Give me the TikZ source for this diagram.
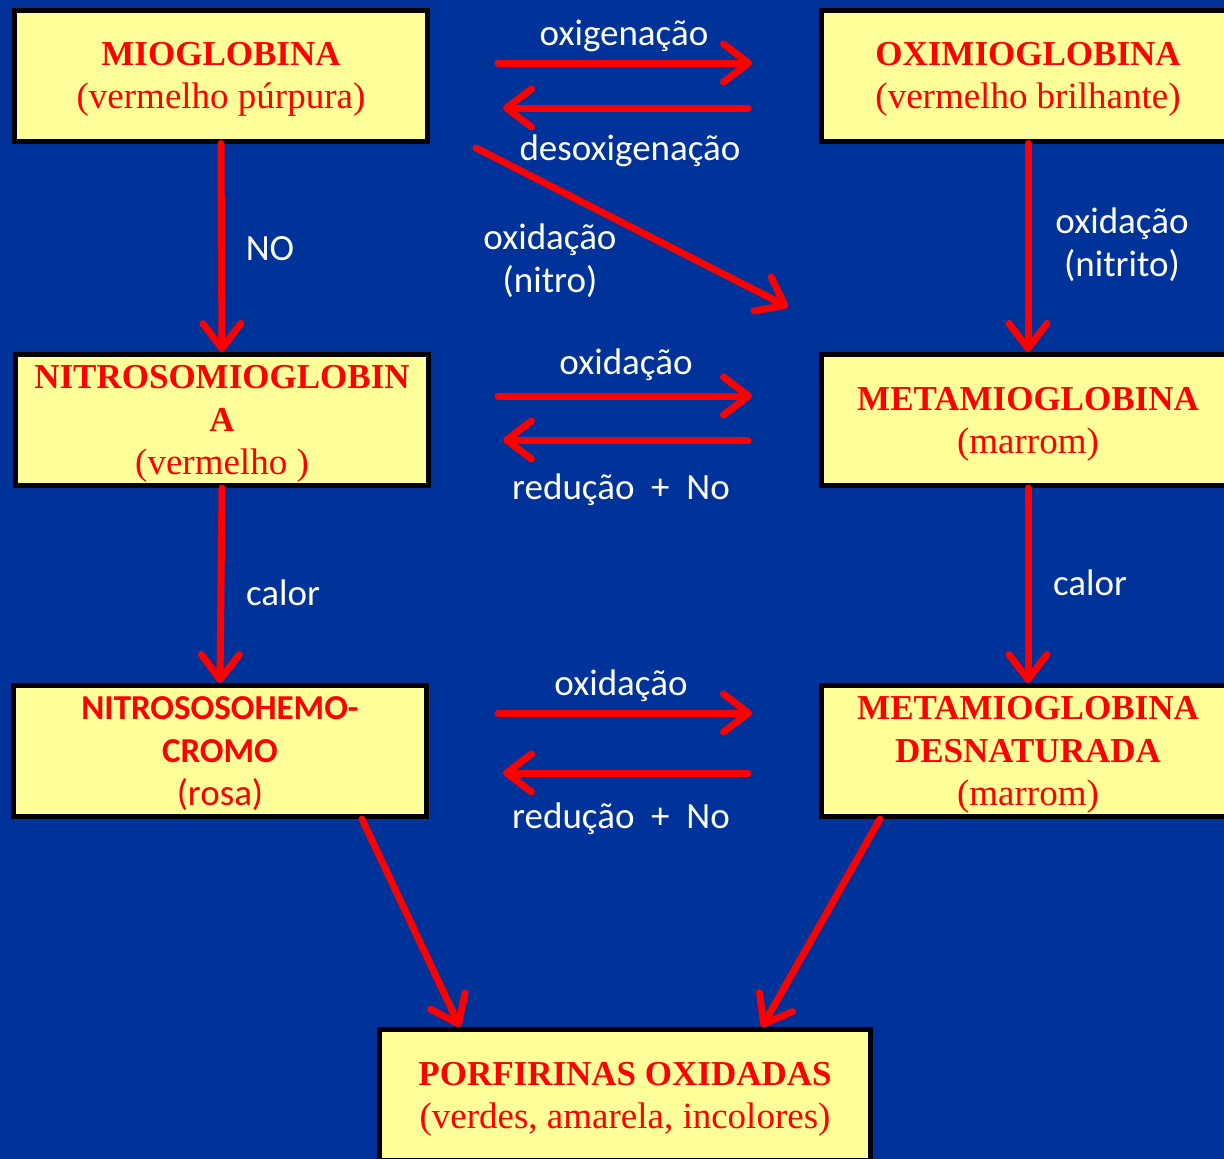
\documentclass[tikz,border=0pt]{standalone}
\usepackage{fontspec}
\setmainfont{Liberation Serif}
\newfontfamily\calibri{Carlito}
\usetikzlibrary{arrows.meta}
\definecolor{fundo}{HTML}{003399}
\definecolor{amarelo}{HTML}{FFFF99}
\newcommand{\titulo}[1]{{\fontsize{35}{43}\selectfont\bfseries #1}}
\tikzset{
	caixa/.style={draw=black, line width=5pt, fill=amarelo, text=red, align=center, minimum width=413pt, minimum height=131pt, inner sep=0pt, font=\fontsize{37}{43}\selectfont, text depth=-3pt},
	seta/.style={draw=red, line width=7pt, line cap=round, -{Straight Barb[length=25pt,width=38pt,round]}},
	rotulo/.style={text=white, align=center, font=\calibri\fontsize{37}{43}\selectfont},
}
\begin{document}
\begin{tikzpicture}[x=1pt,y=-1pt]
	\fill[fundo] (0,0) rectangle (1224,1159);
	\clip (0,0) rectangle (1224,1159);

	\node[caixa] (mio) at (221,75.5) {\titulo{MIOGLOBINA}\\(vermelho púrpura)};
	\node[caixa] (oxi) at (1028,75.5) {\titulo{OXIMIOGLOBINA}\\(vermelho brilhante)};
	\node[caixa] (nitrosomio) at (222,420) {\titulo{NITROSOMIOGLOBIN}\\\titulo{A}\\(vermelho )};
	\node[caixa] (meta) at (1028,420) {\titulo{METAMIOGLOBINA}\\(marrom)};
	\node[caixa, font=\calibri\fontsize{37}{43}\selectfont, text depth=0pt] (nsh) at (220,751) {\titulo{NITROSOSOHEMO-}\\\titulo{CROMO}\\(rosa)};
	\node[caixa] (desn) at (1028,751) {\titulo{METAMIOGLOBINA}\\\titulo{DESNATURADA}\\(marrom)};
	\node[caixa, minimum width=491pt] (porf) at (625,1095) {\titulo{PORFIRINAS OXIDADAS}\\(verdes, amarela, incolores)};

	\draw[seta, shorten <=68pt, shorten >=67pt] ([yshift=12.5pt]mio.east) -- ([yshift=12.5pt]oxi.west);
	\draw[seta, shorten <=71pt, shorten >=73pt] ([yshift=-32.5pt]oxi.west) -- ([yshift=-32.5pt]mio.east);
	\draw[seta, shorten <=67pt, shorten >=67pt] ([yshift=24pt]nitrosomio.east) -- ([yshift=24pt]meta.west);
	\draw[seta, shorten <=71pt, shorten >=72pt] ([yshift=-20pt]meta.west) -- ([yshift=-20pt]nitrosomio.east);
	\draw[seta, shorten <=69pt, shorten >=67pt] ([yshift=38pt]nsh.east) -- ([yshift=38pt]desn.west);
	\draw[seta, shorten <=71pt, shorten >=74pt] ([yshift=-22pt]desn.west) -- ([yshift=-22pt]nsh.east);

	\draw[seta] (mio.south) -- (nitrosomio.north);
	\draw[seta] (oxi.south) -- (meta.north);
	\draw[seta] (nitrosomio.south) -- (nsh.north);
	\draw[seta] (meta.south) -- (desn.north);

	\coordinate (d0) at (476,148);
	\coordinate (d1) at (788,307);
	\draw[seta] (d0) -- (d1);

	\draw[seta] ([xshift=142pt]nsh.south) -- ([xshift=-165pt]porf.north);
	\draw[seta] ([xshift=-148pt]desn.south) -- ([xshift=137pt]porf.north);

	\node[rotulo] (loxig) at (624,36) {oxigenação};
	\node[rotulo] (ldesox) at (630,151) {desoxigenação};
	\node[rotulo] (lno) at (270,249) {NO};
	\node[rotulo] (lnitro) at (550,261) {oxidação\\(nitro)};
	\node[rotulo] (lnitrito) at (1122,245) {oxidação\\(nitrito)};
	\node[rotulo] (loxa) at (626,365) {oxidação};
	\node[rotulo] (lreda) at (621,490) {redução\ \ +\ \ No};
	\node[rotulo] (lcalora) at (283,593) {calor};
	\node[rotulo] (lcalorb) at (1090,583) {calor};
	\node[rotulo] (loxb) at (621,686) {oxidação};
	\node[rotulo] (lredb) at (621,819) {redução\ \ +\ \ No};
\end{tikzpicture}
\end{document}
